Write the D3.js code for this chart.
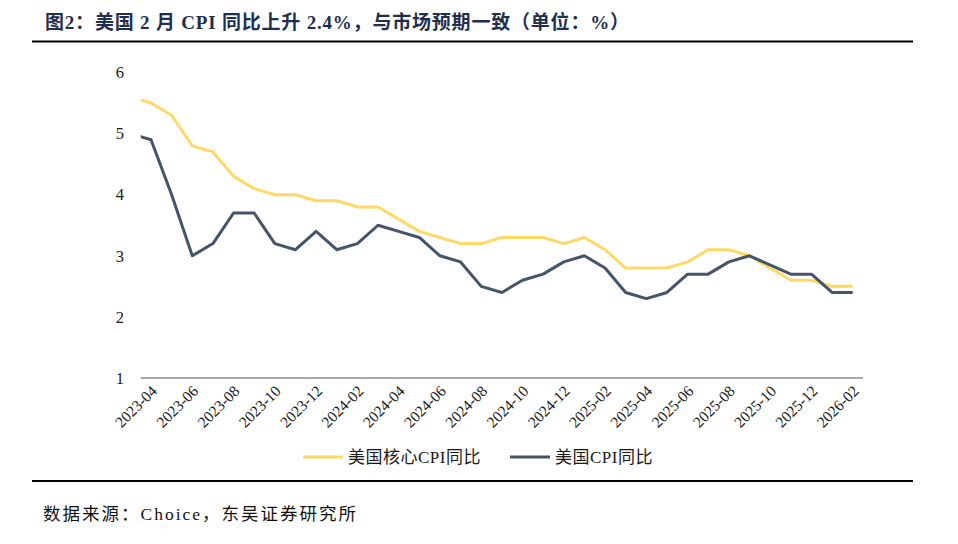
<!DOCTYPE html>
<html>
<head>
<meta charset="utf-8">
<script src="https://cdn.jsdelivr.net/npm/d3@7"></script>
<style>
  html, body { margin: 0; padding: 0; background: #fff; }
  svg text { font-family: "Liberation Serif", "Noto Sans CJK SC", serif; }
</style>
</head>
<body>
<div id="chart"></div>
<script>
// months from 2023-03; the first point sits half a band left of the axis and is clipped
const months = [
  '2023-03', '2023-04', '2023-05', '2023-06', '2023-07', '2023-08', '2023-09', '2023-10', '2023-11', '2023-12',
  '2024-01', '2024-02', '2024-03', '2024-04', '2024-05', '2024-06', '2024-07', '2024-08', '2024-09', '2024-10', '2024-11', '2024-12',
  '2025-01', '2025-02', '2025-03', '2025-04', '2025-05', '2025-06', '2025-07', '2025-08', '2025-09', '2025-10', '2025-11', '2025-12',
  '2026-01', '2026-02'
];
const coreCpi = [
  5.6, 5.5, 5.3, 4.8, 4.7, 4.3, 4.1, 4.0, 4.0, 3.9,
  3.9, 3.8, 3.8, 3.6, 3.4, 3.3, 3.2, 3.2, 3.3, 3.3, 3.3, 3.2,
  3.3, 3.1, 2.8, 2.8, 2.8, 2.9, 3.1, 3.1, 3.0, null, 2.6, 2.6,
  2.5, 2.5
];
const cpi = [
  5.0, 4.9, 4.0, 3.0, 3.2, 3.7, 3.7, 3.2, 3.1, 3.4,
  3.1, 3.2, 3.5, 3.4, 3.3, 3.0, 2.9, 2.5, 2.4, 2.6, 2.7, 2.9,
  3.0, 2.8, 2.4, 2.3, 2.4, 2.7, 2.7, 2.9, 3.0, null, 2.7, 2.7,
  2.4, 2.4
];
const xTickLabels = [
  '2023-04', '2023-06', '2023-08', '2023-10', '2023-12', '2024-02', '2024-04', '2024-06', '2024-08',
  '2024-10', '2024-12', '2025-02', '2025-04', '2025-06', '2025-08', '2025-10', '2025-12', '2026-02'
];
const yTicks = [1, 2, 3, 4, 5, 6];
const seriesNames = ['美国核心CPI同比', '美国CPI同比'];
const seriesColors = ['#FFD966', '#44546A'];

const config = {
  width: 958,
  height: 544,
  plot: { left: 140.7, right: 863, top: 72.5, bottom: 378 }
};

const svg = d3.select('#chart')
  .append('svg')
  .attr('width', config.width)
  .attr('height', config.height);

// title and rules
svg.append('text')
  .attr('x', 45)
  .attr('y', 29)
  .style('font-size', '19px')
  .style('letter-spacing', '0.8px')
  .style('font-weight', 'bold')
  .style('fill', '#1F2F4F')
  .text('图2：美国 2 月 CPI 同比上升 2.4%，与市场预期一致（单位：%）');

svg.selectAll('.rule')
  .data([41.5, 481])
  .enter()
  .append('line')
  .attr('class', 'rule')
  .attr('x1', 32).attr('x2', 913)
  .attr('y1', d => d).attr('y2', d => d)
  .style('stroke', '#000')
  .style('stroke-width', '2.2px');

svg.append('text')
  .attr('x', 43)
  .attr('y', 520)
  .style('font-size', '17.5px')
  .style('letter-spacing', '2px')
  .style('fill', '#111')
  .text('数据来源：Choice，东吴证券研究所');

// scales: index 0 = 2023-04, bands of one month
const firstLabel = months.indexOf(xTickLabels[0]);
const x = d3.scaleLinear()
  .domain([-0.5, months.length - firstLabel - 0.5])
  .range([config.plot.left, config.plot.right]);
const y = d3.scaleLinear()
  .domain([1, 6])
  .range([config.plot.bottom, config.plot.top]);

const idx = m => months.indexOf(m) - firstLabel;

// y labels
svg.append('g')
  .selectAll('text')
  .data(yTicks)
  .enter()
  .append('text')
  .attr('x', 124)
  .attr('y', d => y(d))
  .attr('dy', '0.35em')
  .attr('text-anchor', 'end')
  .style('font-size', '16.5px')
  .style('fill', '#1a1a1a')
  .text(d => d);

// x axis line
svg.append('line')
  .attr('x1', x.range()[0]).attr('x2', x.range()[1])
  .attr('y1', y(1)).attr('y2', y(1))
  .style('stroke', '#8c8c8c')
  .style('stroke-width', '1.5px');

// x labels, rotated
svg.append('g')
  .selectAll('text')
  .data(xTickLabels)
  .enter()
  .append('text')
  .attr('text-anchor', 'end')
  .attr('transform', d => `translate(${x(idx(d)) + 7},${y(1) + 14}) rotate(-45)`)
  .style('font-size', '15.5px')
  .style('fill', '#1a1a1a')
  .text(d => d);

// lines
svg.append('defs')
  .append('clipPath')
  .attr('id', 'plot-clip')
  .append('rect')
  .attr('x', config.plot.left)
  .attr('y', 0)
  .attr('width', config.plot.right - config.plot.left)
  .attr('height', config.height);

const line = d3.line()
  .x(d => x(idx(d.month)))
  .y(d => y(d.value));

[coreCpi, cpi].forEach((values, s) => {
  const pts = months
    .map((m, i) => ({ month: m, value: values[i] }))
    .filter(d => d.value !== null);
  svg.append('path')
    .datum(pts)
    .attr('clip-path', 'url(#plot-clip)')
    .attr('d', line)
    .style('fill', 'none')
    .style('stroke', seriesColors[s])
    .style('stroke-width', '3px')
    .style('stroke-linejoin', 'round');
});

// legend
const legendX = [303, 510];
const legend = svg.append('g')
  .selectAll('g')
  .data(seriesNames)
  .enter()
  .append('g')
  .attr('transform', (d, i) => `translate(${legendX[i]},457)`);

legend.append('line')
  .attr('x1', 0).attr('x2', 40)
  .style('stroke', (d, i) => seriesColors[i])
  .style('stroke-width', '3px');

legend.append('text')
  .attr('x', 45)
  .attr('dy', '0.35em')
  .style('font-size', '17px')
  .style('letter-spacing', '0.5px')
  .style('fill', '#1a1a1a')
  .text(d => d);
</script>
</body>
</html>
